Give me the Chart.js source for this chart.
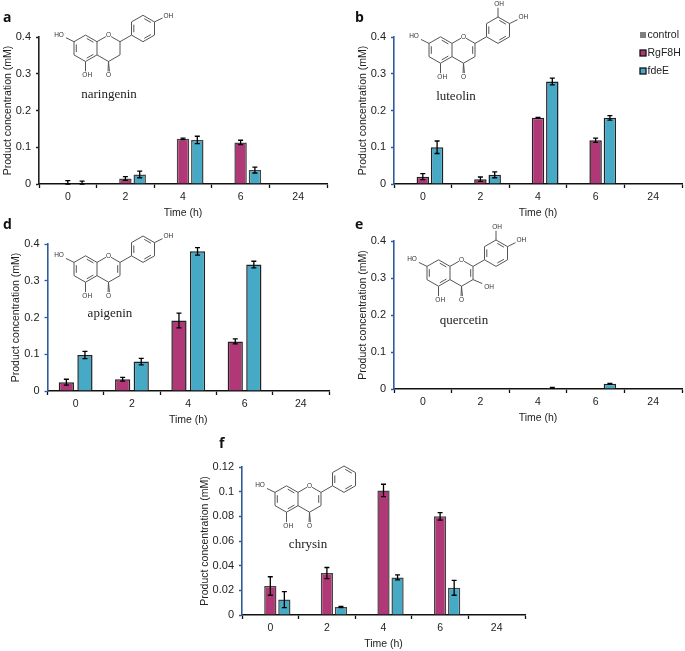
<!DOCTYPE html>
<html>
<head>
<meta charset="utf-8">
<style>
html, body { margin: 0; padding: 0; background: #fff; }
#page { position: relative; width: 685px; height: 651px; overflow: hidden; filter: blur(0.4px); }
#page canvas { position: absolute; }
#mols { position: absolute; left: 0; top: 0; }
</style>
<script src="https://cdn.jsdelivr.net/npm/chart.js@4"></script>
</head>
<body>
<div id="page"><svg id="mols" width="685" height="651" xmlns="http://www.w3.org/2000/svg"></svg></div>
<script>
var times = ['0', '2', '4', '6', '24'];

var aControl = [0, 0, 0, 0, 0];
var aRgF8H = [0.002, 0.015, 0.123, 0.113, 0];
var aRgF8HErr = [0.007, 0.005, 0.002, 0.006, 0];
var aFdeE = [0.002, 0.026, 0.12, 0.038, 0.001];
var aFdeEErr = [0.006, 0.009, 0.01, 0.008, 0];

var bControl = [0, 0, 0, 0, 0];
var bRgF8H = [0.02, 0.013, 0.18, 0.119, 0];
var bRgF8HErr = [0.008, 0.006, 0.001, 0.006, 0];
var bFdeE = [0.1, 0.025, 0.279, 0.18, 0];
var bFdeEErr = [0.017, 0.008, 0.009, 0.006, 0];

var dRgF8H = [0.024, 0.032, 0.192, 0.135, 0];
var dRgF8HErr = [0.008, 0.005, 0.02, 0.007, 0];
var dFdeE = [0.098, 0.08, 0.38, 0.344, 0];
var dFdeEErr = [0.01, 0.009, 0.01, 0.009, 0];

var eControl = [0, 0, 0, 0, 0];
var eRgF8H = [0, 0, 0, 0, 0];
var eRgF8HErr = [0, 0, 0, 0, 0];
var eFdeE = [0, 0, 0.003, 0.014, 0];
var eFdeEErr = [0, 0, 0.001, 0.001, 0];

var fControl = [0, 0, 0, 0, 0];
var fRgF8H = [0.0235, 0.034, 0.101, 0.08, 0];
var fRgF8HErr = [0.0075, 0.0045, 0.005, 0.003, 0];
var fFdeE = [0.0125, 0.0065, 0.0305, 0.022, 0];
var fFdeEErr = [0.0065, 0.0005, 0.002, 0.006, 0];

var MAGENTA = '#b03877';
var TEAL = '#46a9c5';
var GREY = '#7f7f7f';
var TEXT = '#222';
var SANS = '"Liberation Sans", Arial, sans-serif';

// error bars, read from dataset.errors
var errorBars = {
    id: 'errorBars',
    afterDatasetsDraw: function (chart) {
        var ctx = chart.ctx;
        var y = chart.scales.y;
        ctx.save();
        ctx.strokeStyle = '#000';
        ctx.lineWidth = 1.3;
        chart.data.datasets.forEach(function (ds, i) {
            if (!ds.errors) return;
            chart.getDatasetMeta(i).data.forEach(function (bar, j) {
                var e = ds.errors[j];
                if (!e) return;
                var top = y.getPixelForValue(ds.data[j] + e);
                var low = y.getPixelForValue(Math.max(ds.data[j] - e, 0));
                ctx.beginPath();
                ctx.moveTo(bar.x, top);
                ctx.lineTo(bar.x, low);
                ctx.moveTo(bar.x - 2.5, top);
                ctx.lineTo(bar.x + 2.5, top);
                ctx.moveTo(bar.x - 2.5, low);
                ctx.lineTo(bar.x + 2.5, low);
                ctx.stroke();
            });
        });
        ctx.restore();
    }
};

// the legend sits partly above the plot, so it is drawn by hand (panel b only)
var cornerLegend = {
    id: 'cornerLegend',
    afterDraw: function (chart) {
        if (!chart.options.plugins.cornerLegend.show) return;
        var ctx = chart.ctx;
        var x = 640 - chart.canvas.offsetLeft;
        var y = 35 - chart.canvas.offsetTop;
        ctx.save();
        ctx.font = '10.5px ' + SANS;
        ctx.textBaseline = 'middle';
        chart.data.datasets.forEach(function (ds, i) {
            var ry = y + i * 18;
            ctx.fillStyle = ds.backgroundColor;
            ctx.fillRect(x, ry - 3, 6, 6);
            if (i > 0) {
                ctx.strokeStyle = '#111';
                ctx.lineWidth = 1.3;
                ctx.strokeRect(x, ry - 3, 6, 6);
            }
            ctx.fillStyle = TEXT;
            ctx.fillText(ds.label, x + 7.5, ry);
        });
        ctx.restore();
    }
};

function makeDatasets(control, rg, rgErr, fde, fdeErr, edge) {
    var sets = [];
    if (control) {
        sets.push({ label: 'control', data: control, backgroundColor: GREY, borderColor: GREY, borderWidth: 0 });
    }
    sets.push({ label: 'RgF8H', data: rg, errors: rgErr, backgroundColor: MAGENTA, borderColor: edge, borderWidth: 1.5 });
    sets.push({ label: 'fdeE', data: fde, errors: fdeErr, backgroundColor: TEAL, borderColor: edge, borderWidth: 1.5 });
    return sets;
}

function makeChart(p) {
    var pad = 16; // has to clear half a tick label plus the tick padding
    var left = p.titleLeft;
    var top = p.plotTop - pad;
    var width = p.plotRight - left + 3;
    var height = p.plotBottom + 35 - top;
    var canvas = document.createElement('canvas');
    canvas.style.left = left + 'px';
    canvas.style.top = top + 'px';
    canvas.style.width = width + 'px';
    canvas.style.height = height + 'px';
    canvas.width = width;
    canvas.height = height;
    document.getElementById('page').appendChild(canvas);

    return new Chart(canvas, {
        type: 'bar',
        data: { labels: times, datasets: p.datasets },
        options: {
            responsive: false,
            animation: false,
            datasets: { bar: { categoryPercentage: p.catPct, barPercentage: p.barPct } },
            layout: { padding: { top: pad, right: 3, left: 0, bottom: 0 } },
            plugins: {
                legend: { display: false },
                tooltip: { enabled: false },
                cornerLegend: { show: !!p.legend }
            },
            scales: {
                x: {
                    afterFit: function (s) { s.height = 35; },
                    grid: { offset: true, drawOnChartArea: false, tickLength: 4, color: '#111', tickWidth: 1.3 },
                    border: { color: '#111', width: 1.6 },
                    ticks: { color: TEXT, font: { family: SANS, size: 10.5 }, padding: 3, maxRotation: 0 },
                    title: { display: true, text: 'Time (h)', color: TEXT, padding: 0, font: { family: SANS, size: 10.5 } }
                },
                y: {
                    min: 0,
                    max: p.yMax,
                    afterFit: function (s) { s.width = p.plotLeft - left; },
                    grid: { drawOnChartArea: false, tickLength: 3, color: p.yColor, tickWidth: 1.3 },
                    border: { color: p.yColor, width: 1.6 },
                    ticks: {
                        stepSize: p.yStep,
                        color: TEXT,
                        font: { family: SANS, size: 11 },
                        padding: 5,
                        callback: function (v) { return String(Number(v.toFixed(2))); }
                    },
                    title: { display: true, text: 'Product concentration (mM)', color: TEXT, padding: 0, font: { family: SANS, size: 10.5 } }
                }
            }
        },
        plugins: [errorBars, cornerLegend]
    });
}

makeChart({ titleLeft: 2, plotLeft: 39, plotRight: 327, plotTop: 36.5, plotBottom: 184, yMax: 0.4, yStep: 0.1, yColor: '#222', catPct: 0.745, barPct: 0.87,
    datasets: makeDatasets(aControl, aRgF8H, aRgF8HErr, aFdeE, aFdeEErr, '#444') });
makeChart({ titleLeft: 356.5, plotLeft: 393.5, plotRight: 682, plotTop: 36.5, plotBottom: 184, yMax: 0.4, yStep: 0.1, yColor: '#2f5d9b', catPct: 0.745, barPct: 0.87, legend: true,
    datasets: makeDatasets(bControl, bRgF8H, bRgF8HErr, bFdeE, bFdeEErr, '#222') });
makeChart({ titleLeft: 9.5, plotLeft: 47, plotRight: 329, plotTop: 244, plotBottom: 391, yMax: 0.4, yStep: 0.1, yColor: '#2f5d9b', catPct: 0.66, barPct: 0.82,
    datasets: makeDatasets(null, dRgF8H, dRgF8HErr, dFdeE, dFdeEErr, '#222') });
makeChart({ titleLeft: 356.5, plotLeft: 393.5, plotRight: 682, plotTop: 241, plotBottom: 389, yMax: 0.4, yStep: 0.1, yColor: '#2f5d9b', catPct: 0.745, barPct: 0.87,
    datasets: makeDatasets(eControl, eRgF8H, eRgF8HErr, eFdeE, eFdeEErr, '#222') });
makeChart({ titleLeft: 199, plotLeft: 242, plotRight: 525, plotTop: 467, plotBottom: 615, yMax: 0.12, yStep: 0.02, yColor: '#2f5d9b', catPct: 0.745, barPct: 0.87,
    datasets: makeDatasets(fControl, fRgF8H, fRgF8HErr, fFdeE, fFdeEErr, '#444') });

// structures and captions, built on a hexagonal lattice
var svg = document.getElementById('mols');
var DX = 11.5, DY = 6.6;

function svgAdd(tag, attrs, text) {
    var el = document.createElementNS('http://www.w3.org/2000/svg', tag);
    for (var k in attrs) el.setAttribute(k, attrs[k]);
    if (text) el.textContent = text;
    svg.appendChild(el);
}

function bond(ox, oy, a, b, cutA, cutB) {
    var x1 = ox + a[0] * DX, y1 = oy + a[1] * DY;
    var x2 = ox + b[0] * DX, y2 = oy + b[1] * DY;
    var len = Math.hypot(x2 - x1, y2 - y1);
    var ux = (x2 - x1) / len, uy = (y2 - y1) / len;
    svgAdd('line', { x1: x1 + ux * (cutA || 0), y1: y1 + uy * (cutA || 0), x2: x2 - ux * (cutB || 0), y2: y2 - uy * (cutB || 0), stroke: '#555', 'stroke-width': 1 });
}

function innerBond(ox, oy, a, b, c) {
    // second stroke of a double bond, pulled towards ring centre c
    var x1 = a[0] * DX, y1 = a[1] * DY, x2 = b[0] * DX, y2 = b[1] * DY;
    var cx = c[0] * DX, cy = c[1] * DY;
    var t = 0.2;
    var s = 0.14;
    var ax = x1 + (cx - x1) * t, ay = y1 + (cy - y1) * t;
    var bx = x2 + (cx - x2) * t, by = y2 + (cy - y2) * t;
    svgAdd('line', { x1: ox + ax + (bx - ax) * s, y1: oy + ay + (by - ay) * s, x2: ox + bx - (bx - ax) * s, y2: oy + by - (by - ay) * s, stroke: '#555', 'stroke-width': 1 });
}

function atom(ox, oy, p, label) {
    svgAdd('text', { x: ox + p[0] * DX, y: oy + p[1] * DY + 2.3, 'text-anchor': 'middle', 'font-family': SANS, 'font-size': 6.5, fill: '#333' }, label);
}

function molecule(ox, oy, opts) {
    var A = { c8a: [0, -1], c4a: [0, 1], c5: [-1, 2], c6: [-2, 1], c7: [-2, -1], c8: [-1, -2] };
    var O1 = [1, -2], C2 = [2, -1], C3 = [2, 1], C4 = [1, 2];
    var ringA = [-1, 0], ringC = [1, 0], ringB = [4, -3];
    var B = [[3, -2], [3, -4], [4, -5], [5, -4], [5, -2], [4, -1]];

    [[A.c8a, A.c4a], [A.c4a, A.c5], [A.c5, A.c6], [A.c6, A.c7], [A.c7, A.c8], [A.c8, A.c8a], [C2, C3], [C3, C4], [C4, A.c4a]].forEach(function (b) { bond(ox, oy, b[0], b[1]); });
    bond(ox, oy, A.c8a, O1, 0, 3);
    bond(ox, oy, O1, C2, 3, 0);
    innerBond(ox, oy, A.c6, A.c7, ringA);
    innerBond(ox, oy, A.c8, A.c8a, ringA);
    innerBond(ox, oy, A.c4a, A.c5, ringA);
    if (opts.flavone) innerBond(ox, oy, C2, C3, ringC);

    bond(ox, oy, C2, B[0]);
    B.forEach(function (p, i) { bond(ox, oy, p, B[(i + 1) % 6]); });
    innerBond(ox, oy, B[0], B[1], ringB);
    innerBond(ox, oy, B[2], B[3], ringB);
    innerBond(ox, oy, B[4], B[5], ringB);

    bond(ox, oy, C4, [0.96, 3.5]);
    bond(ox, oy, C4, [1.08, 3.5]);
    atom(ox, oy, [1, 4], 'O');
    atom(ox, oy, O1, 'O');
    bond(ox, oy, A.c5, [-1, 3.5]);
    atom(ox, oy, [-0.85, 4], 'OH');
    bond(ox, oy, A.c7, [-2.7, -1.6]);
    atom(ox, oy, [-3.3, -2.1], 'HO');
    if (opts.p4) {
        bond(ox, oy, B[3], [5.7, -4.6]);
        atom(ox, oy, [6.2, -5], 'OH');
    }
    if (opts.m3) {
        bond(ox, oy, B[2], [4, -6.4]);
        atom(ox, oy, [4.1, -7], 'OH');
    }
    if (opts.o3) {
        bond(ox, oy, C3, [2.8, 1.6]);
        atom(ox, oy, [3.4, 2.1], 'OH');
    }
}

function caption(x, y, text) {
    svgAdd('text', { x: x, y: y, 'text-anchor': 'middle', 'font-family': '"Liberation Serif", serif', 'font-size': 13, fill: '#222' }, text);
}

function panelLetter(x, y, text) {
    svgAdd('text', { x: x, y: y, 'font-family': '"Open Sans", sans-serif', 'font-weight': 700, 'font-size': 14, fill: '#111' }, text);
}

molecule(97, 48.3, { p4: true });
molecule(452, 50, { flavone: true, p4: true, m3: true });
molecule(97, 269, { flavone: true, p4: true });
molecule(450, 273, { flavone: true, p4: true, m3: true, o3: true });
molecule(298, 499, { flavone: true });

caption(109, 98, 'naringenin');
caption(456, 100, 'luteolin');
caption(110, 317, 'apigenin');
caption(464, 324, 'quercetin');
caption(308, 548, 'chrysin');

panelLetter(3, 22, 'a');
panelLetter(355, 22, 'b');
panelLetter(3, 229, 'd');
panelLetter(355, 229, 'e');
panelLetter(219, 448, 'f');
</script>
</body>
</html>
